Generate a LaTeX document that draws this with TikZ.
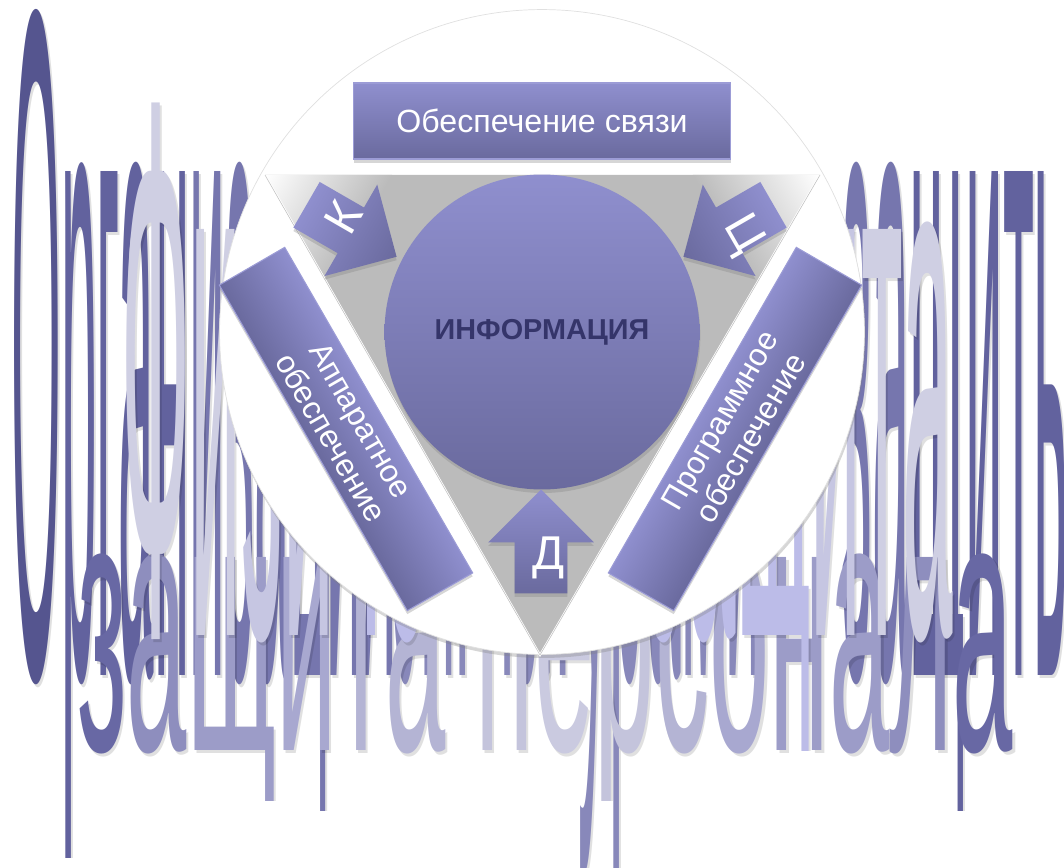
\documentclass[tikz,border=0pt]{standalone}
\usepackage{fontspec}
\setmainfont{Liberation Sans}
\usetikzlibrary{shapes.arrows,shadows}
\definecolor{boxtop}{HTML}{8F8FCE}
\definecolor{boxbot}{HTML}{6A6A9E}
\definecolor{boxline}{HTML}{9C9CD6}
\definecolor{tribg}{HTML}{BBBBBB}
\definecolor{infotext}{HTML}{35356A}
\definecolor{d1}{HTML}{55558F}
\definecolor{d2}{HTML}{62629E}
\definecolor{d3}{HTML}{7676AE}
\definecolor{d4}{HTML}{8888BA}
\definecolor{m1}{HTML}{6868A4}
\definecolor{m2}{HTML}{8E8EBE}
\definecolor{m3}{HTML}{9C9CC8}
\definecolor{m4}{HTML}{A8A8D0}
\definecolor{m5}{HTML}{B4B4D4}
\definecolor{m6}{HTML}{C4C4DC}
\definecolor{m7}{HTML}{CACAE0}
\definecolor{l1}{HTML}{CFCFE3}
\definecolor{l2}{HTML}{C6C6E2}
\definecolor{l3}{HTML}{BCBCE8}
\newcommand{\lc}[2]{\textcolor{#1}{#2}}
\newcommand{\plainlc}[2]{#2}
\newcommand{\darktext}{\lc{d1}{О}\lc{d2}{рган}\lc{d3}{изация}\hspace{-.14em}\lc{d4}{сигнатурами}}
\newcommand{\darkend}{\lc{d3}{за}\lc{d2}{щиты}}
\newcommand{\lighttext}{\lc{l1}{Фи}\lc{l2}{зи}\lc{l3}{ческая за}\lc{l3}{щ}\lc{l2}{и}\lc{l1}{та}}
\newcommand{\midtext}{\lc{m1}{з}\lc{m2}{а}\lc{m3}{щ}\lc{m4}{и}\lc{m5}{та }\lc{m6}{п}\lc{m7}{е}\lc{m6}{р}\lc{m5}{с}\lc{m4}{о}\lc{m3}{н}\lc{m3}{а}\lc{m2}{л}\lc{m1}{а}}
\tikzset{
	wordart/.style 2 args={anchor=base west,inner sep=0,transform shape,xscale=#1,yscale=#2,font=\fontsize{10}{12}\selectfont},
	softshade/.style={text=black,text opacity=.12},
	castshade/.style 2 args={drop shadow={shadow xshift=#1,shadow yshift=#2,opacity=.32}},
	gradbox/.style={draw=boxline,line width=.6pt,top color=boxtop,bottom color=boxbot,text=white,inner sep=0,align=center},
	sidebox/.style={gradbox,minimum width=7.52cm,minimum height=1.51cm,font=\fontsize{18}{20}\selectfont},
	arrowbox/.style={single arrow,anchor=tip,inner xsep=0,inner ysep=.52cm,minimum height=2.08cm,single arrow head extend=.53cm,single arrow tip angle=90,left color=boxtop,right color=boxbot},
	letter/.style={text=white,inner sep=0,font=\fontsize{27}{30}\selectfont},
}
\begin{document}
\begin{tikzpicture}[x=.02cm,y=-.02cm]
	\clip (0,0) rectangle (1064,868);
	% background words
	\begin{scope}
		\clip (0,0) rectangle (1064,810) (50,810) rectangle (90,857) (570,810) rectangle (625,868);
		\node[wordart={3.64}{54.3},softshade] (orgshade) at (12,678) {\let\lc\plainlc\darktext};
		\node[wordart={3.84}{54.3},softshade] (endshade) at (842,678) {\let\lc\plainlc\darkend};
		\node[wordart={3.64}{54.3}] (org) at (10,675) {\darktext};
		\node[wordart={3.84}{54.3}] (orgend) at (840,675) {\darkend};
	\end{scope}
	\begin{scope}
		\clip (0,0) rectangle (1064,800);
		\node[wordart={6.17}{20.8},softshade] (persshade) at (77,753) {\let\lc\plainlc\midtext};
		\node[wordart={6.17}{20.8}] (pers) at (75,750) {\midtext};
	\end{scope}
	\begin{scope}
		\clip (0,0) rectangle (1064,750);
		\node[wordart={5.17}{43.75},softshade] (physshade) at (122,638) {\let\lc\plainlc\lighttext};
		\node[wordart={5.17}{43.75}] (phys) at (120,635) {\lighttext};
	\end{scope}
	% white disc
	\node[circle,fill=white,draw=black!12,line width=.4pt,inner sep=0,minimum size=12.9cm,castshade={.5pt}{-2pt}] (disc) at (542,332) {};
	% triangle
	\coordinate (tl) at (265,175);
	\coordinate (tr) at (820,175);
	\coordinate (tb) at (540,655);
	\fill[tribg] (tl)--(tr)--(tb)--cycle;
	\begin{scope}
		\clip (tl)--(tr)--(tb)--cycle;
		\begin{scope}[transform canvas={shift={(tl)},rotate=-30}]
			\shade[left color=white,right color=tribg] (0,-120) rectangle (110,120);
		\end{scope}
		\begin{scope}[transform canvas={shift={(tr)},rotate=210}]
			\shade[left color=white,right color=tribg] (0,-120) rectangle (110,120);
		\end{scope}
	\end{scope}
	\draw[white,line width=1.2pt] (tr)--(tb)--(tl);
	\draw[black!25,line width=.3pt] (tl)--(tb)--(tr);
	% boxes
	\node[gradbox,minimum width=7.54cm,minimum height=1.52cm,font=\fontsize{18.3}{20}\selectfont,castshade={.5pt}{-2pt}] (link) at (542,121) {Обеспечение связи};
	\begin{scope}[transform canvas={shift={(346,429)},rotate=-60}]
		\node[sidebox,castshade={1.7pt}{-1pt}] (hard) at (0,0) {Аппаратное\\обеспечение};
	\end{scope}
	\begin{scope}[transform canvas={shift={(735,429)},rotate=60}]
		\node[sidebox,castshade={-1.7pt}{-1pt}] (soft) at (0,0) {Программное\\обеспечение};
	\end{scope}
	% centre
	\node[circle,top color=boxtop,bottom color=boxbot,inner sep=0,minimum size=6.3cm,text=infotext,font=\bfseries\fontsize{16.4}{18}\selectfont,castshade={.5pt}{-2pt}] (info) at (542,332) {\raisebox{-1pt}{ИНФОРМАЦИЯ}};
	% arrows
	\begin{scope}[transform canvas={shift={(397,257)},rotate=-30}]
		\node[arrowbox,castshade={1pt}{-1.7pt}] (conf) at (0,0) {};
	\end{scope}
	\begin{scope}[transform canvas={shift={(683,257)},rotate=210}]
		\node[arrowbox,castshade={1pt}{1.7pt}] (integ) at (0,0) {};
	\end{scope}
	\begin{scope}[transform canvas={shift={(541,489)},rotate=90}]
		\node[arrowbox,left color=boxbot,right color=boxtop,castshade={-2pt}{0pt}] (avail) at (0,0) {};
	\end{scope}
	\node[letter,rotate=60] (k) at (343,217) {К};
	\node[letter,rotate=-60] (c) at (742,235) {Ц};
	\node[letter] (d) at (549,558) {Д};
\end{tikzpicture}
\end{document}
